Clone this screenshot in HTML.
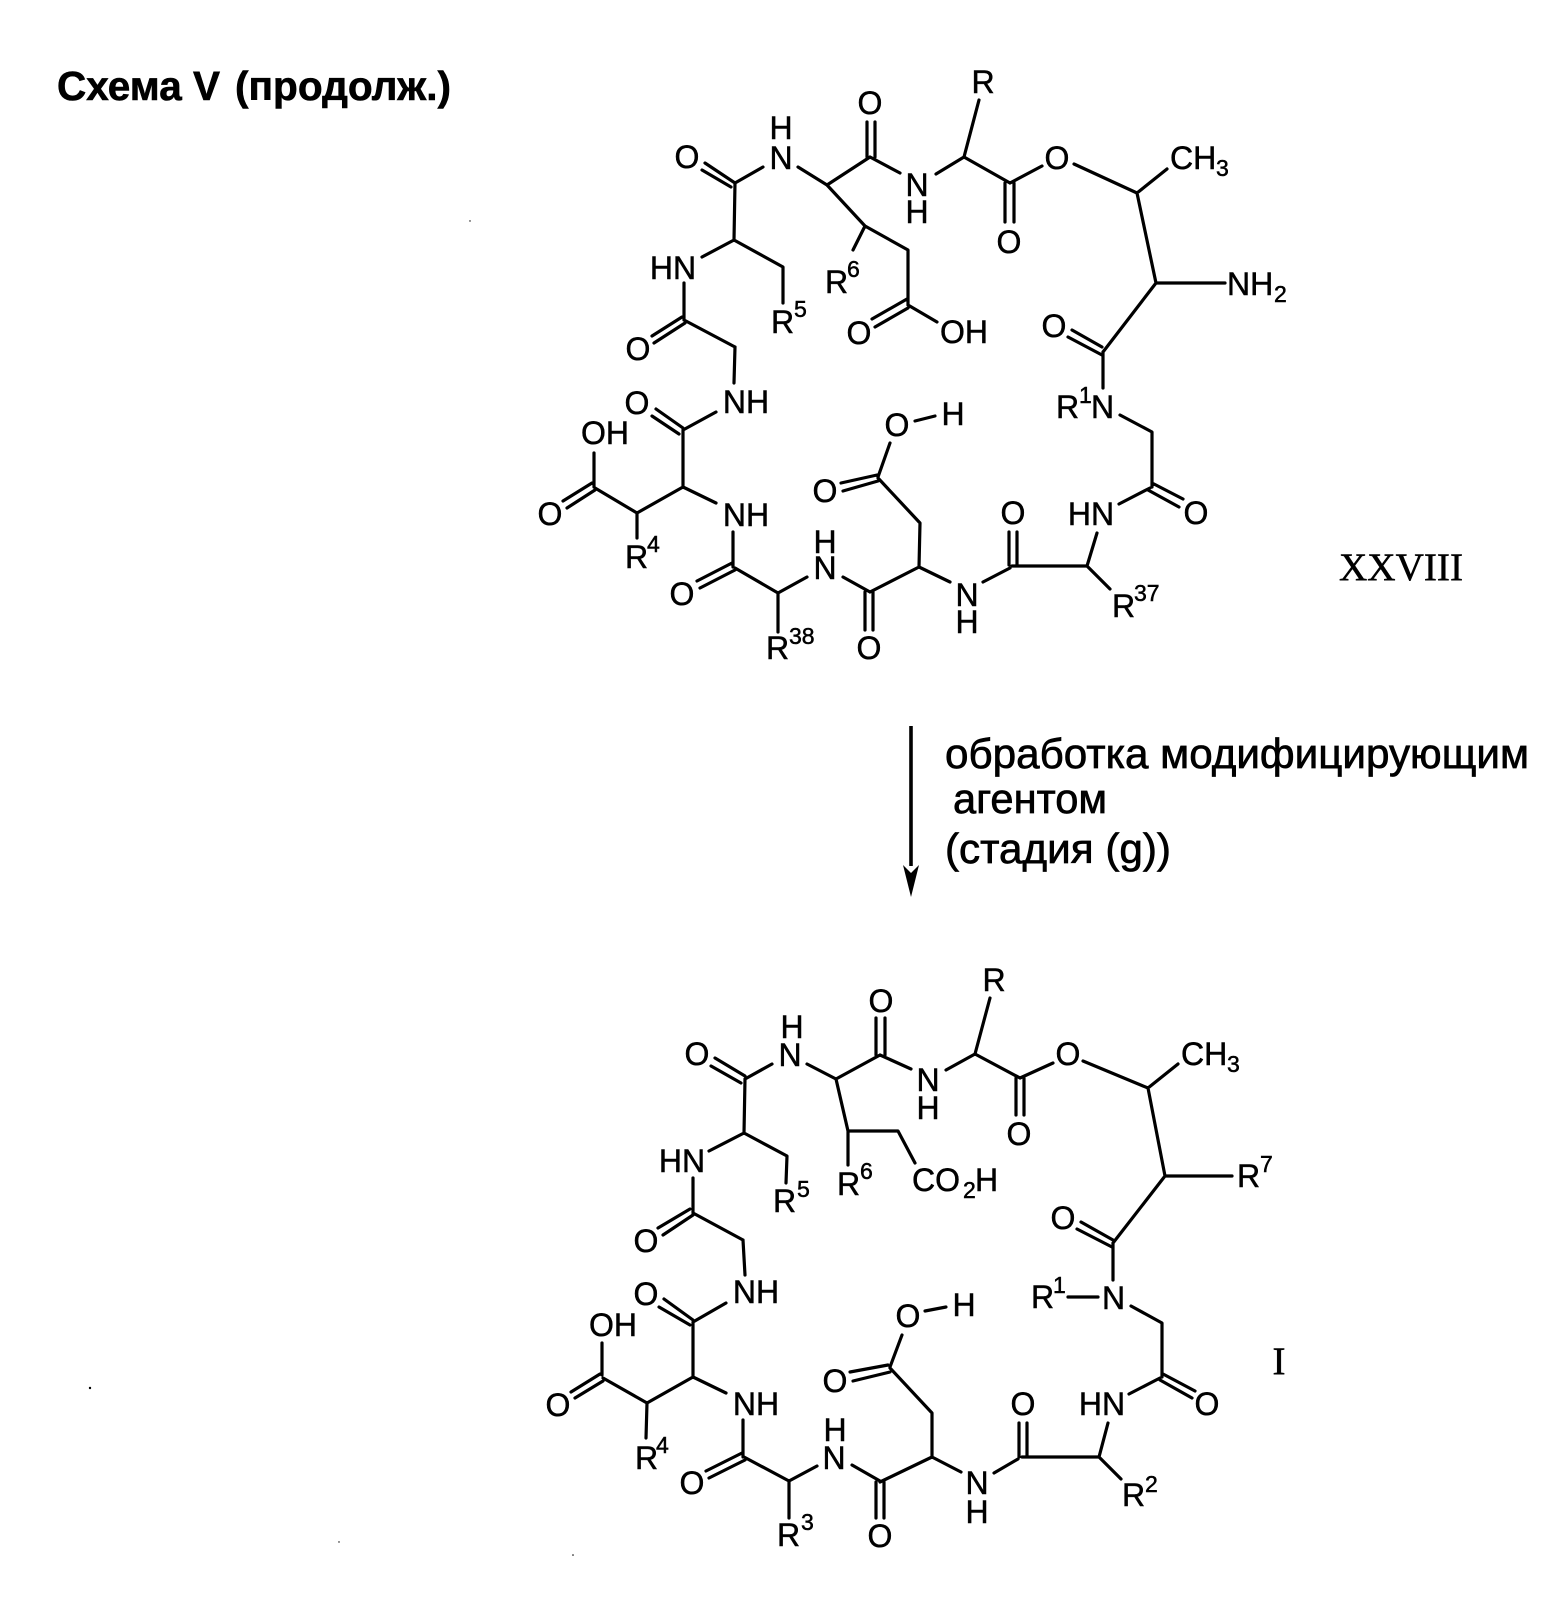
<!DOCTYPE html>
<html lang="ru"><head><meta charset="utf-8"><title>Схема V</title>
<style>
html,body{margin:0;padding:0;background:#fff}
svg{display:block}
.b{stroke:#000;stroke-width:3.2;fill:none;stroke-linecap:round;stroke-linejoin:round}
text{font-family:"Liberation Sans",sans-serif;font-size:32px;fill:#000;stroke:#000;stroke-width:.5}
.m{text-anchor:middle}
.s{font-size:23px}
.t{font-size:42px;stroke-width:.7}
.h{font-size:41px;font-weight:bold;stroke-width:.6}
.r{font-family:"Liberation Serif",serif;font-size:39px}
</style></head><body>
<svg width="1557" height="1606" viewBox="0 0 1557 1606" xmlns="http://www.w3.org/2000/svg">
<rect width="1557" height="1606" fill="#fff"/>
<text class="h" x="57" y="100" textLength="163" lengthAdjust="spacingAndGlyphs">Схема V</text>
<text class="h" x="235" y="100" textLength="216" lengthAdjust="spacingAndGlyphs">(продолж.)</text>

<path class="b" d="M735 183L705 163M731 187L702 170M735 183L763 167M798 167L827 185L870 157M867 157V122M875 157V122M870 157L900 173M936 174L964 157L979 100M964 157L1010 183M1005 183V222M1014 183V222M1010 183L1042 166M1074 164L1137 193L1167 169M1137 193L1156 283L1225 283M1156 283L1103 352M1102 347L1072 330M1102 355L1068 337M1103 352V388M1120 415L1152 432V487M1152 483L1183 499M1148 490L1179 507M1150 488L1119 504M1097 533L1087 566L1012 566M1087 566L1110 589M1009 565V532M1017 565V532M1010 568L983 582M950 582L919 567L920 523L878 478M877 475L841 483M878 481L843 491M878 477L890 443M915 421L935 416M919 567L870 592M865 592V630M873 592V630M870 592L843 577M807 577L778 593V632M778 593L735 568M732 563L697 581M735 570L700 588M733 567V532M716 503L683 487V430M683 428L656 409M679 434L652 416M683 430L716 412M735 347L734 383M684 320L735 347M682 317L652 336M685 323L654 343M684 283V320M734 240L702 257M735 183L734 240L783 267V303M827 185L865 226L853 250M865 226L908 250V305M907 299L872 319M908 308L875 327M908 305L937 322M683 487L637 513L595 488M637 513V538M592 483L563 501M595 490L567 508M594 487V453"/>

<text class="m" x="687" y="168">O</text>
<text class="m" x="781" y="169">N</text><text class="m" x="781" y="139">H</text>
<text class="m" x="870" y="114">O</text>
<text class="m" x="917" y="196">N</text><text class="m" x="917" y="223">H</text>
<text class="m" x="983" y="93">R</text>
<text class="m" x="1009" y="253">O</text>
<text class="m" x="1057" y="169">O</text>
<text x="1170" y="169">CH</text><text class="s" x="1216" y="176">3</text>
<text x="1227" y="295">NH</text><text class="s" x="1274" y="302">2</text>
<text class="m" x="1054" y="337">O</text>
<text x="1056" y="418">R</text><text class="s" x="1079" y="403">1</text><text x="1091" y="418">N</text>
<text class="m" x="1196" y="524">O</text>
<text class="m" x="1091" y="525">HN</text>
<text x="1112" y="617">R</text><text class="s" x="1134" y="601">37</text>
<text class="m" x="1013" y="524">O</text>
<text class="m" x="967" y="606">N</text><text class="m" x="967" y="633">H</text>
<text class="m" x="825" y="502">O</text>
<text class="m" x="897" y="436">O</text>
<text class="m" x="953" y="425">H</text>
<text class="m" x="869" y="659">O</text>
<text class="m" x="825" y="579">N</text><text class="m" x="825" y="553">H</text>
<text x="766" y="659">R</text><text class="s" x="789" y="644">38</text>
<text class="m" x="682" y="605">O</text>
<text class="m" x="746" y="526">NH</text>
<text class="m" x="637" y="414">O</text>
<text class="m" x="746" y="413">NH</text>
<text class="m" x="638" y="360">O</text>
<text class="m" x="673" y="279">HN</text>
<text x="771" y="333">R</text><text class="s" x="794" y="317">5</text>
<text x="825" y="293">R</text><text class="s" x="847" y="277">6</text>
<text class="m" x="859" y="344">O</text>
<text x="940" y="343">OH</text>
<text x="625" y="568">R</text><text class="s" x="647" y="552">4</text>
<text class="m" x="550" y="525">O</text>
<text x="581" y="444">OH</text>
<text class="r" x="1339" y="580" textLength="124" lengthAdjust="spacingAndGlyphs">XXVIII</text>

<path d="M911 726V866" stroke="#000" stroke-width="3.6" fill="none"/>
<path d="M903 865L911 873L919 865L911 897Z" fill="#000"/>
<text class="t" x="945" y="768" textLength="584" lengthAdjust="spacingAndGlyphs">обработка модифицирующим</text>
<text class="t" x="953" y="813" textLength="154" lengthAdjust="spacingAndGlyphs">агентом</text>
<text class="t" x="945" y="863" textLength="226" lengthAdjust="spacingAndGlyphs">(стадия (g))</text>

<path class="b" d="M745 1076L715 1058M741 1083L711 1066M745 1079L772 1064M807 1064L836 1079L880 1055M876 1055V1018M885 1055V1018M880 1055L911 1069M946 1070L975 1054L990 998M975 1054L1020 1078M1016 1078V1115M1024 1078V1115M1020 1078L1053 1063M1083 1061L1148 1088L1178 1064M1148 1088L1165 1176H1232M1165 1176L1113 1243M1113 1240L1081 1222M1112 1247L1077 1229M1113 1243V1280M1068 1297H1098M1131 1306L1162 1323V1377M1163 1374L1195 1391M1160 1380L1192 1398M1160 1378L1129 1394M1108 1423L1099 1457H1022M1099 1457L1121 1479M1019 1457V1423M1027 1457V1423M1018 1459L994 1473M961 1472L932 1457L932 1413L890 1368M888 1365L850 1372M890 1372L853 1381M890 1367L902 1335M925 1311L946 1307M932 1457L880 1482M876 1482V1518M884 1482V1518M880 1481L852 1465M817 1466L789 1481V1518M789 1481L744 1457M742 1453L706 1471M745 1460L709 1478M743 1457V1420M726 1393L693 1377V1323M693 1320L664 1299M690 1325L659 1307M693 1322L726 1303M743 1240L745 1275M693 1213L743 1240M690 1209L658 1228M693 1215L663 1235M693 1178V1212M744 1133L709 1151M745 1079L744 1133L787 1156L786 1183M836 1079L848 1131V1165M848 1131H898L915 1163M693 1377L647 1403L603 1378M647 1403L646 1438M600 1374L571 1392M603 1381L575 1398M602 1375V1343"/>

<text class="m" x="697" y="1065">O</text>
<text class="m" x="790" y="1066">N</text><text class="m" x="792" y="1038">H</text>
<text class="m" x="881" y="1012">O</text>
<text class="m" x="928" y="1091">N</text><text class="m" x="928" y="1119">H</text>
<text class="m" x="994" y="991">R</text>
<text class="m" x="1019" y="1145">O</text>
<text class="m" x="1068" y="1065">O</text>
<text x="1181" y="1065">CH</text><text class="s" x="1227" y="1072">3</text>
<text x="1237" y="1187">R</text><text class="s" x="1260" y="1172">7</text>
<text class="m" x="1063" y="1229">O</text>
<text x="1031" y="1308">R</text><text class="s" x="1053" y="1293">1</text><text x="1102" y="1309">N</text>
<text class="m" x="1207" y="1415">O</text>
<text class="m" x="1102" y="1415">HN</text>
<text x="1122" y="1506">R</text><text class="s" x="1145" y="1492">2</text>
<text class="m" x="1023" y="1415">O</text>
<text class="m" x="977" y="1494">N</text><text class="m" x="977" y="1523">H</text>
<text class="m" x="835" y="1392">O</text>
<text class="m" x="908" y="1327">O</text>
<text class="m" x="964" y="1316">H</text>
<text class="m" x="880" y="1547">O</text>
<text class="m" x="834" y="1469">N</text><text class="m" x="835" y="1441">H</text>
<text x="777" y="1546">R</text><text class="s" x="801" y="1530">3</text>
<text class="m" x="692" y="1494">O</text>
<text class="m" x="756" y="1415">NH</text>
<text class="m" x="646" y="1305">O</text>
<text class="m" x="756" y="1303">NH</text>
<text class="m" x="646" y="1252">O</text>
<text class="m" x="682" y="1172">HN</text>
<text x="773" y="1212">R</text><text class="s" x="797" y="1197">5</text>
<text x="837" y="1195">R</text><text class="s" x="860" y="1179">6</text>
<text x="912" y="1191">CO</text><text class="s" x="963" y="1198">2</text><text x="975" y="1191">H</text>
<text x="635" y="1469">R</text><text class="s" x="656" y="1453">4</text>
<text class="m" x="558" y="1416">O</text>
<text x="589" y="1336">OH</text>
<text class="r m" x="1279" y="1374">I</text>

<g fill="#000"><circle cx="90" cy="1388" r="1.2"/><circle cx="470" cy="221" r=".7"/><circle cx="339" cy="1542" r=".7"/><circle cx="573" cy="1555" r=".8"/></g>
</svg>
</body></html>
